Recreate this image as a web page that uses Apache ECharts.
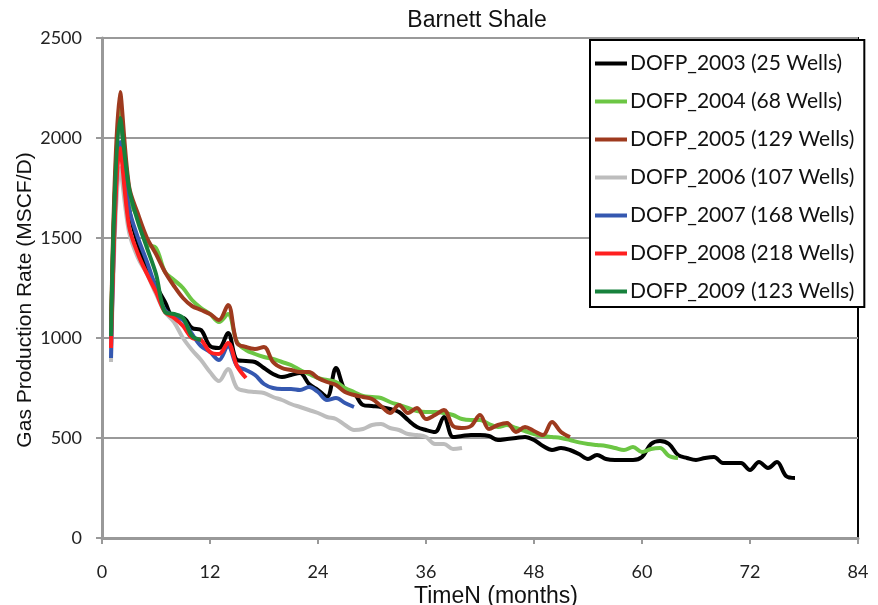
<!DOCTYPE html>
<html>
<head>
<meta charset="utf-8">
<script src="https://cdn.jsdelivr.net/npm/echarts@6/dist/echarts.min.js"></script>
<style>html,body{margin:0;padding:0;background:#fff}#c{width:878px;height:605px}</style>
</head>
<body>
<div id="c"></div>
<script>
var titleText = 'Barnett Shale';
var xTicks = [0, 12, 24, 36, 48, 60, 72, 84];
var yTicks = [0, 500, 1000, 1500, 2000, 2500];
var seriesNames = ['DOFP_2003 (25 Wells)', 'DOFP_2004 (68 Wells)', 'DOFP_2005 (129 Wells)', 'DOFP_2006 (107 Wells)', 'DOFP_2007 (168 Wells)', 'DOFP_2008 (218 Wells)', 'DOFP_2009 (123 Wells)'];
var seriesColors = ['#000000', '#6cc644', '#9e3a1e', '#bdbdbd', '#3558b0', '#ff2020', '#17813c'];
// monthly values, month 1..N
var dofp2003 = [1000, 2130, 1650, 1470, 1350, 1260, 1180, 1100, 1100, 1050, 1040, 960, 950, 1025, 890, 885, 880, 850, 820, 805, 815, 825, 770, 740, 705, 850, 740, 725, 665, 660, 655, 645, 630, 590, 555, 540, 530, 605, 505, 510, 515, 515, 510, 490, 495, 500, 505, 490, 460, 440, 450, 440, 420, 395, 415, 395, 390, 390, 390, 405, 470, 485, 470, 415, 400, 390, 400, 405, 375, 375, 375, 340, 380, 350, 380, 310, 300];
var dofp2004 = [1050, 2150, 1700, 1600, 1470, 1450, 1330, 1290, 1250, 1190, 1150, 1120, 1080, 1120, 980, 940, 920, 905, 895, 880, 865, 840, 820, 800, 790, 780, 750, 730, 710, 705, 700, 680, 665, 650, 635, 630, 630, 625, 615, 595, 590, 590, 570, 555, 565, 550, 535, 520, 510, 505, 500, 490, 478, 470, 465, 460, 450, 440, 455, 430, 445, 450, 410, 400];
var dofp2005 = [1050, 2230, 1760, 1620, 1500, 1420, 1330, 1260, 1200, 1160, 1140, 1120, 1090, 1165, 975, 955, 945, 955, 880, 850, 840, 830, 830, 800, 780, 765, 730, 715, 705, 695, 660, 625, 665, 625, 650, 595, 615, 640, 560, 550, 560, 615, 545, 565, 575, 530, 555, 535, 515, 580, 530, 505];
var dofp2006 = [880, 1850, 1530, 1400, 1320, 1220, 1130, 1080, 1000, 940, 890, 830, 785, 845, 750, 735, 730, 725, 705, 690, 670, 655, 640, 625, 605, 595, 565, 540, 545, 565, 570, 550, 540, 520, 515, 505, 470, 470, 445, 450];
var dofp2007 = [900, 1980, 1650, 1500, 1380, 1250, 1140, 1110, 1090, 1020, 960, 930, 890, 960, 860, 840, 815, 770, 750, 745, 745, 740, 755, 730, 690, 700, 675, 655];
var dofp2008 = [950, 1950, 1560, 1420, 1320, 1230, 1130, 1100, 1060, 1000, 990, 930, 920, 975, 860, 800];
var dofp2009 = [1010, 2100, 1750, 1580, 1450, 1320, 1130, 1120, 1100, 1010, 990];
var allValues = [dofp2003, dofp2004, dofp2005, dofp2006, dofp2007, dofp2008, dofp2009];

function toPairs(arr) {
  return arr.map(function (v, i) { return [i + 1, v]; });
}

var chart = echarts.init(document.getElementById('c'), null, { renderer: 'canvas' });
var series = allValues.map(function (vals, k) {
  return {
    name: seriesNames[k],
    type: 'line',
    data: toPairs(vals),
    smooth: 0.35,
    showSymbol: false,
    symbol: 'none',
    lineStyle: { width: 4, color: seriesColors[k] },
    itemStyle: { color: seriesColors[k] },
    z: 2 + k
  };
});

chart.setOption({
  animation: false,
  backgroundColor: '#ffffff',
  title: {
    text: titleText,
    left: 472,
    top: 4,
    textAlign: 'center',
    textStyle: { fontFamily: 'Liberation Sans', fontSize: 23, fontWeight: 'normal', color: '#111' }
  },
  grid: {
    left: 102, right: 20, top: 38, bottom: 67,
    outerBoundsMode: 'none',
    containLabel: false,
    show: true, borderColor: '#000', borderWidth: 2, backgroundColor: 'transparent'
  },
  legend: {
    orient: 'vertical',
    left: 590,
    top: 40,
    padding: [13, 10, 5, 5],
    itemGap: 17,
    itemWidth: 32,
    itemHeight: 4,
    icon: 'rect',
    backgroundColor: '#fff',
    borderColor: '#000',
    borderWidth: 2,
    textStyle: { fontFamily: 'Lato', fontSize: 21, color: '#111', padding: [0, 0, 0, -2] },
    data: seriesNames
  },
  xAxis: {
    type: 'value',
    min: xTicks[0],
    max: xTicks[xTicks.length - 1],
    interval: 12,
    name: 'TimeN (months)',
    nameLocation: 'middle',
    nameGap: 47,
    nameMoveOverlap: false,
    nameTextStyle: { fontFamily: 'Liberation Sans', fontSize: 23, color: '#111', padding: [0, 0, 0, 32] },
    axisLine: { show: true, lineStyle: { color: '#999', width: 3 } },
    axisTick: { show: true, length: 6, lineStyle: { color: '#999', width: 2 } },
    axisLabel: { margin: 25, fontFamily: 'Lato', fontSize: 18, color: '#222' },
    splitLine: { show: false }
  },
  yAxis: {
    type: 'value',
    min: yTicks[0],
    max: yTicks[yTicks.length - 1],
    interval: 500,
    name: 'Gas Production Rate (MSCF/D)',
    nameLocation: 'middle',
    nameGap: 66,
    nameMoveOverlap: false,
    nameTextStyle: { fontFamily: 'Liberation Sans', fontSize: 21, color: '#111', padding: [0, 24, 0, 0] },
    axisLine: { show: true, lineStyle: { color: '#999', width: 3 } },
    axisTick: { show: true, length: 6, lineStyle: { color: '#999', width: 2 } },
    axisLabel: { margin: 20, fontFamily: 'Lato', fontSize: 18, color: '#222', formatter: function (v) { return String(v); } },
    splitLine: { show: true, lineStyle: { color: '#999', width: 2 } }
  },
  series: series
});
</script>
</body>
</html>
